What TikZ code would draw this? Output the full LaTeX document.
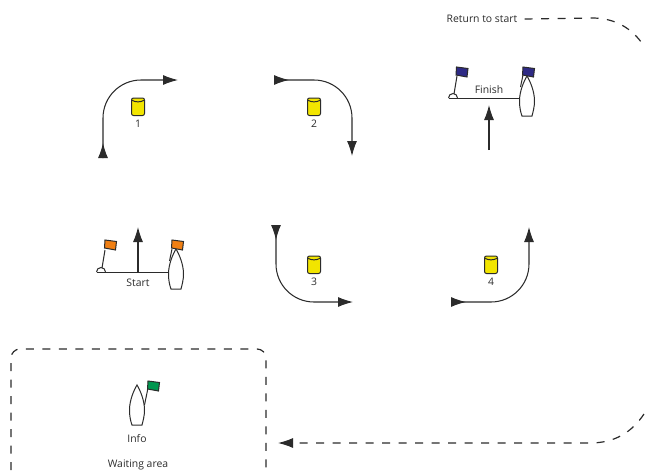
\documentclass[tikz,border=0pt]{standalone}
\usepackage{fontspec}
\setmainfont{Open Sans}
\usetikzlibrary{arrows.meta}
\definecolor{inkgray}{HTML}{2B2B2B}
\definecolor{markyellow}{HTML}{F2E500}
\definecolor{flagorange}{HTML}{F07F13}
\definecolor{flagblue}{HTML}{2E2A85}
\definecolor{flaggreen}{HTML}{00964F}
\tikzset{
  txt/.style={font=\fontsize{10.4}{12}\selectfont, text=inkgray, inner sep=0pt},
  course/.style={draw=inkgray, line width=1.05pt, -{Latex[length=15pt,width=10pt]}},
  turn/.style={course, rounded corners=38pt},
  dashline/.style={draw=inkgray, line width=1.2pt, dash pattern=on 8pt off 8.5pt},
  gateline/.style={draw=inkgray, line width=1pt},
  pics/hull/.style={code={
    \draw[inkgray, line width=1pt, fill=white] (0,0) .. controls (3,5) and (7.5,15) .. (7.5,25)
      .. controls (7.5,31) and (6,36) .. (5,40) -- (-5,40)
      .. controls (-6.5,36) and (-7.5,31) .. (-7.5,25)
      .. controls (-7.5,15) and (-3,5) .. (0,0) -- cycle;
  }},
  pics/flagmark/.style={code={
    \draw[inkgray, fill=#1, line width=1pt] (0,0) -- (11.5,1.5) -- (10.5,10) -- (-0.5,8) -- cycle;
  }},
  pics/cask/.style={code={
    \draw[inkgray, fill=markyellow, line width=1pt, rounded corners=2pt] (-6.5,-8) -- (6.5,-8) -- (6.5,9.5) -- (-6.5,9.5) -- cycle;
    \draw[inkgray, line width=1pt] (-6.5,-6) .. controls (-3,-3.5) and (3,-3.5) .. (6.5,-6);
  }}
}

\begin{document}
\begin{tikzpicture}[x=1pt, y=-1pt]

    \useasboundingbox (0,0) rectangle (646,474);

    % marks with their numbers
    \foreach \pos/\name/\lab in {{(138,106)/one/1}, {(314,106)/two/2}, {(314,264)/three/3}, {(491,264)/four/4}}
    {
        \pic at \pos {cask};
        \node[txt, yshift=-18pt] (\name) at \pos {\lab};
    }

    % rounding the marks
    \coordinate (afrom) at (103,158);
    \coordinate (atip) at (103,143);
    \coordinate (abend) at (103,80);
    \coordinate (aend) at (178,80);
    \coordinate (bfrom) at (274,80);
    \coordinate (btip) at (289,80);
    \coordinate (bbend) at (352,80);
    \coordinate (bend) at (352,156);
    \coordinate (cfrom) at (276,225);
    \coordinate (ctip) at (276,240);
    \coordinate (cbend) at (276,302);
    \coordinate (cend) at (353,302);
    \coordinate (dfrom) at (451,302);
    \coordinate (dtip) at (466,302);
    \coordinate (dbend) at (529,302);
    \coordinate (dend) at (529,227);
    \foreach \name in {a,b,c,d}
    {
        \draw[turn] (\name from) -- (\name bend) -- (\name end);
        \draw[course] (\name from) -- (\name tip);
    }

    % start line
    \coordinate (startbuoy) at (96.5,272);
    \coordinate (startboat) at (168,272);
    \coordinate (starttail) at (138,272);
    \coordinate (starttip) at (138,227);
    \draw[gateline] (105,250) -- (102,268);
    \draw[gateline, fill=white] (startbuoy) arc[start angle=180, end angle=360, radius=4.5];
    \pic at (105,240) {flagmark=flagorange};
    \draw[gateline] (startbuoy) -- (startboat);
    \draw[course] (starttail) -- (starttip);
    \pic at (176,249) {hull};
    \draw[gateline] (172,249) -- (169.5,261);
    \pic at (172,240) {flagmark=flagorange};
    \node[txt] (start) at (138,283) {Start};

    % finish line
    \coordinate (finishbuoy) at (448.5,98);
    \coordinate (finishboat) at (519,98);
    \coordinate (finishtail) at (489,150);
    \coordinate (finishtip) at (489,105);
    \draw[gateline] (457,76) -- (454,94);
    \draw[gateline, fill=white] (finishbuoy) arc[start angle=180, end angle=360, radius=4.5];
    \pic at (456.5,67) {flagmark=flagblue};
    \draw[gateline] (finishbuoy) -- (finishboat);
    \draw[course] (finishtail) -- (finishtip);
    \pic at (527,76) {hull};
    \draw[gateline] (523,75) -- (520.5,87);
    \pic at (523,67) {flagmark=flagblue};
    \node[txt] (finish) at (489,90) {Finish};

    % return leg
    \node[txt] (return) at (482,19) {Return to start};
    \coordinate (returnend) at (644,46);
    \draw[dashline] ([xshift=7pt]return.east) -- (592,18) .. controls (615,18) and (632,28) .. (returnend);

    \coordinate (backstart) at (644,414);
    \coordinate (backtail) at (293,443);
    \coordinate (backtip) at (278,443);
    \draw[dashline] (backstart) .. controls (632,432) and (615,443) .. (590,443) -- (backtail);
    \draw[course] (backtail) -- (backtip);

    % waiting area
    \coordinate (boxa) at (11,470);
    \coordinate (boxb) at (258,482);
    \draw[dashline, rounded corners=9pt] (boxa) -- (11,349) -- (266,349) -- (266,482) -- (boxb);
    \pic at (137,385) {hull};
    \draw[gateline] (148,388) -- (144.5,405);
    \pic at (148,381) {flagmark=flaggreen};
    \node[txt] (info) at (137,439) {Info};
    \node[txt] (waiting) at (138,465) {Waiting area};

\end{tikzpicture}
\end{document}
